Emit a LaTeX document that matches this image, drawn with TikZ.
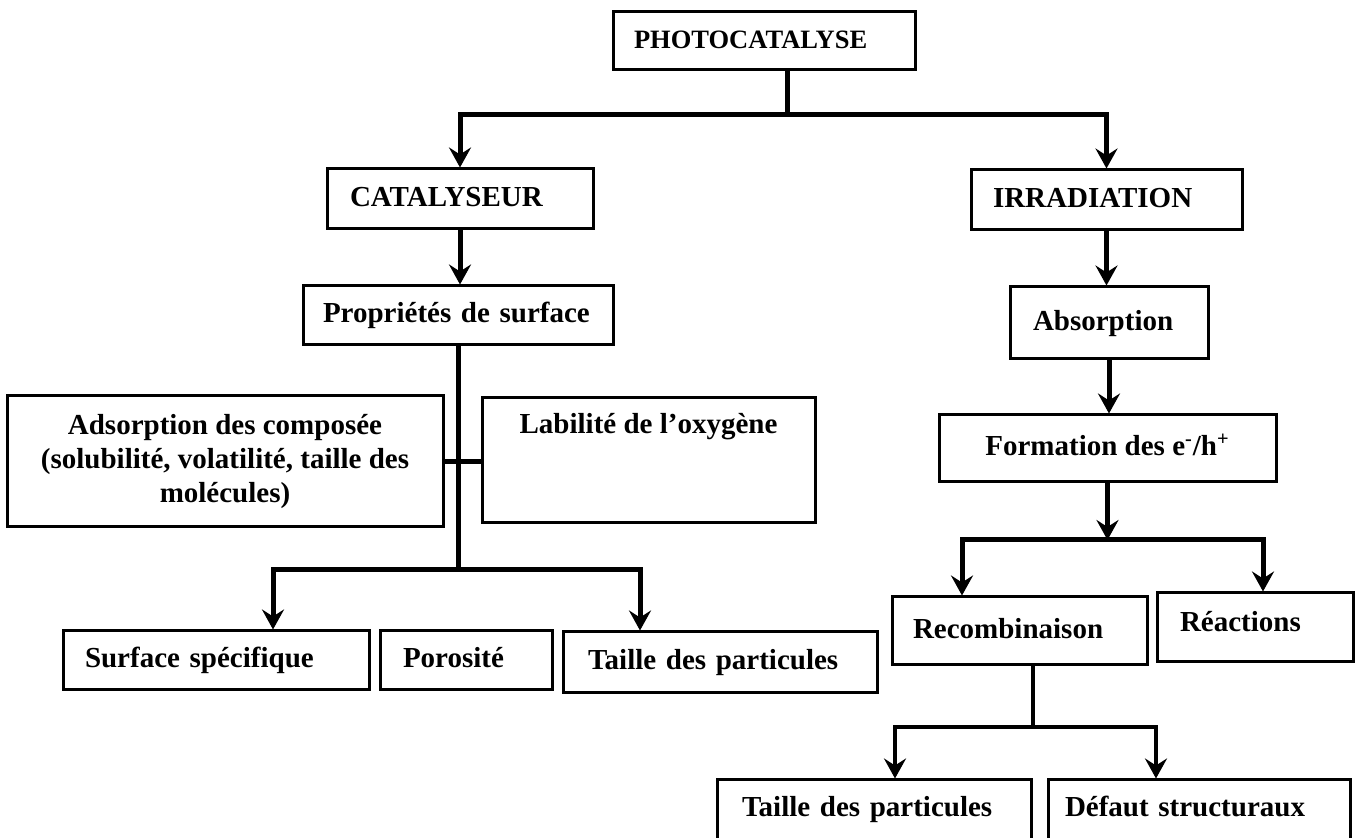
\documentclass[tikz,border=0pt]{standalone}
\usepackage{fontspec}
\setmainfont{Liberation Serif}
\usetikzlibrary{arrows.meta}

\tikzset{
  boite/.style={draw, line width=1.5pt, inner ysep=0pt, text height=10.5pt, text depth=3pt, font=\bfseries\fontsize{14.5}{17}\selectfont},
  gauche/.style 2 args={align=left, inner xsep=#1, text width=#2},
  lien/.style={line width=2.5pt},
  fleche/.style={lien, -{Stealth[length=10pt,width=11pt,inset=3.5pt]}},
  fleche2/.style={line width=1.8pt, -{Stealth[length=10pt,width=11pt,inset=3.5pt]}},
}

\begin{document}
\begin{tikzpicture}[x=0.5pt,y=-0.5pt]
    \useasboundingbox (0,0) rectangle (1362,838);
    % haut
    \node[boite, gauche={10.5pt}{130pt}, minimum height=29pt, font=\bfseries\fontsize{13.25}{16}\selectfont] (photo) at (764,41) {PHOTOCATALYSE};
    \node[boite, gauche={11.5pt}{110pt}, minimum height=30pt] (cata) at (460,199) {CATALYSEUR};
    \node[boite, gauche={11pt}{113.5pt}, minimum height=30pt] (irra) at (1106.5,200) {IRRADIATION};
    % catalyseur
    \node[boite, gauche={10pt}{135pt}, minimum height=29.5pt] (prop) at (458,315.5) {Propriétés de surface};
    \node[boite, align=center, minimum width=218pt, minimum height=65.5pt, text height={}, text depth={}] (adso) at (225,461.5) {Adsorption des composée\\(solubilité, volatilité, taille des\\molécules)};
    \node[boite, minimum width=166.5pt, text height=18pt, text depth=44.5pt] (labi) at (648.5,460.5) {Labilité de l’oxygène};
    \node[boite, gauche={11pt}{131pt}, minimum height=29.5pt] (surf) at (216,660.5) {Surface spécifique};
    \node[boite, gauche={11.5pt}{63pt}, minimum height=29.5pt] (poro) at (466,660.5) {Porosité};
    \node[boite, gauche={12.5pt}{132pt}, minimum height=30.5pt] (tail1) at (720,662.5) {Taille des particules};
    % irradiation
    \node[boite, gauche={11.5pt}{76pt}, minimum height=36pt] (abso) at (1109,323) {Absorption};
    \node[boite, minimum width=168.5pt, minimum height=33.5pt] (form) at (1107.5,448.5) {Formation des e\textsuperscript{-}/h\textsuperscript{+}};
    \node[boite, gauche={10.5pt}{106.5pt}, minimum height=34pt] (reco) at (1019.5,631) {Recombinaison};
    \node[boite, gauche={11.5pt}{75pt}, minimum height=34.5pt, text depth=6pt] (reac) at (1255,627.5) {Réactions};
    \node[boite, gauche={12.5pt}{132pt}, minimum height=31pt, text depth=5pt] (tail2) at (874,811) {Taille des particules};
    \node[boite, gauche={8.5pt}{134pt}, minimum height=31pt, text depth=5pt] (defa) at (1199,811) {Défaut structuraux};

    \coordinate (haut) at (787,115);
    \coordinate (pg) at (273,570);
    \coordinate (pd) at (640,570);
    \coordinate (fg) at (962,540);
    \coordinate (fd) at (1263,540);
    \coordinate (rg) at (895,727);
    \coordinate (rd) at (1156,727);
    \coordinate (rm) at (1033,727);

    \draw[lien] (photo.south -| haut) -- (haut);
    \draw[fleche] (haut) -| (cata.north);
    \draw[fleche] (haut) -| (irra.north);
    \draw[fleche] (cata.south) -- (cata.south |- prop.north);
    \draw[fleche] (irra.south) -- (irra.south |- abso.north);
    \draw[fleche] (abso.south) -- (abso.south |- form.north);

    \draw[lien] (prop.south) -- (prop.south |- pg);
    \draw[lien] (adso.east) -- (adso.east -| labi.west);
    \draw[fleche] (prop.south |- pg) -| (pg |- surf.north);
    \draw[fleche] (prop.south |- pg) -| (pd |- tail1.north);

    \draw[fleche] (form.south) -- (form.south |- fg);
    \draw[fleche] (form.south |- fg) -| (fg |- reco.north);
    \draw[fleche] (form.south |- fg) -| (fd |- reac.north);

    \draw[line width=1.8pt] (rm |- reco.south) -- (rm);
    \draw[fleche2] (rm) -| (rg |- tail2.north);
    \draw[fleche2] (rm) -| (rd |- defa.north);
\end{tikzpicture}
\end{document}
